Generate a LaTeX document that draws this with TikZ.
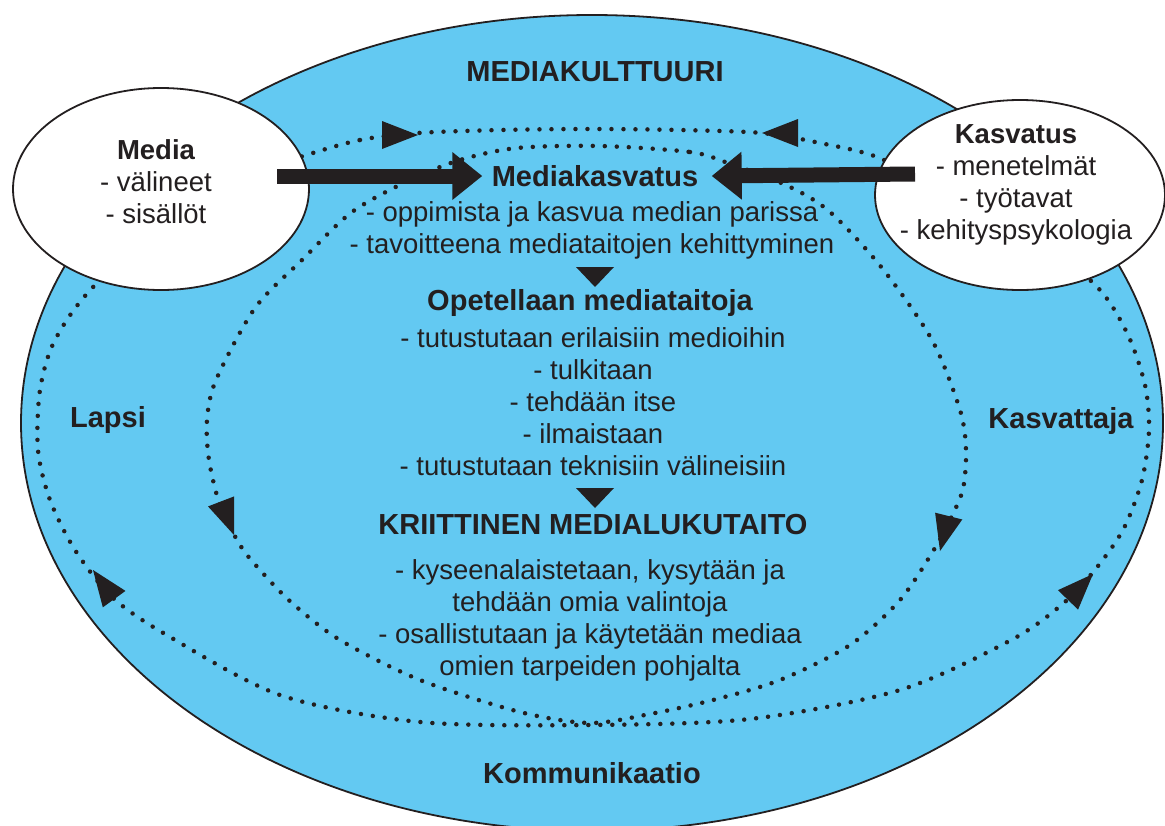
\documentclass[tikz,border=0pt]{standalone}
\usepackage{fontspec}
\setmainfont{Liberation Sans}
\usepackage{tikz}
\usetikzlibrary{arrows,arrows.meta,shapes.geometric}

\definecolor{kulttuuri}{RGB}{99,201,242}
\definecolor{ink}{RGB}{35,31,32}

\tikzset{
  txt/.style={text=ink, align=center, font=\fontsize{27.5}{32}\selectfont},
  hd/.style={text=ink, align=center, font=\fontsize{29}{33}\selectfont\bfseries},
  oval/.style={ellipse, draw=ink, line width=1.8pt, fill=white, inner sep=0pt},
  dots/.style={ink, line width=4.5pt, line cap=round, dash pattern=on 0pt off 12pt},
  bigarrow/.style={ink, line width=15pt, -{Triangle[length=30pt,width=46pt]}}
}

\begin{document}
\begin{tikzpicture}[x=1pt,y=-1pt]
        \useasboundingbox (0,0) rectangle (1165,825);
        \draw[ink, line width=1.8pt, fill=kulttuuri] (592,423) ellipse [x radius=571, y radius=408];

        % dotted loops
        \draw[dots] plot[smooth cycle] coordinates {(300,157) (360,140) (418,133) (500,130) (590,129) (680,130) (762,133) (820,143) (877,157) (940,190) (1050,250) (1100,290) (1128,335) (1145,385) (1149,430) (1142,480) (1124,528) (1098,566) (1066,601) (1013,639) (900,690) (750,719) (590,725) (420,722) (280,695) (165,634) (112,597) (75,550) (50,500) (38,450) (40,390) (55,340) (95,285) (200,190)};
        \draw[dots] plot[smooth cycle] coordinates {(600,146) (690,152) (728,163) (788,186) (830,212) (882,268) (932,340) (960,410) (966,450) (963,489) (950,520) (935,548) (900,600) (850,645) (780,680) (713,700) (650,714) (590,723) (520,712) (420,680) (340,640) (292,603) (260,570) (240,545) (220,505) (209,460) (207,420) (216,380) (255,308) (302,260) (352,212) (410,180) (460,160) (517,148)};
        \foreach \x/\y/\a in {418/135/0, 762/133/180, 93/570/126, 1093/574/46, 234/535/-69, 940/551/-104}
        \fill[ink, shift={(\x,\y)}, rotate=\a] (0,0) -- (-36,14) -- (-36,-14) -- cycle;

        \node[oval, minimum width=296pt, minimum height=202pt] (media) at (161,189) {};
        \node[oval, minimum width=290pt, minimum height=190pt] (kasvatus) at (1020,195) {};

        \node[hd] (title) at (595,72) {MEDIAKULTTUURI};
        \node[txt] (mediatxt) at (156,182) {{\bfseries Media}\\- välineet\\- sisällöt};
        \node[txt] (kasvatustxt) at (1016,185) {{\bfseries Kasvatus}\\- menetelmät\\- työtavat\\- kehityspsykologia};

        \node[hd] (mk) at (595,176) {Mediakasvatus};
        \node[txt] (mk1) at (592,230) {- oppimista ja kasvua median parissa\\- tavoitteena mediataitojen kehittyminen};
        \node[hd] (op) at (590,303) {Opetellaan mediataitoja};
        \node[txt] (op1) at (593,402) {- tutustutaan erilaisiin medioihin\\- tulkitaan\\- tehdään itse\\- ilmaistaan\\- tutustutaan teknisiin välineisiin};
        \node[hd] (kr) at (593,525) {KRIITTINEN MEDIALUKUTAITO};
        \node[txt] (kr1) at (590,620) {- kyseenalaistetaan, kysytään ja\\tehdään omia valintoja\\- osallistutaan ja käytetään mediaa\\omien tarpeiden pohjalta};
        \node[hd] (kom) at (592,773) {Kommunikaatio};
        \node[hd] (lapsi) at (108,420) {Lapsi};
        \node[hd] (kvt) at (1061,421) {Kasvattaja};

        % small arrows between the steps
        \foreach \y in {267,488}
        \fill[ink, shift={(595,\y)}] (-19,0) -- (19,0) -- (0,20) -- cycle;

        \coordinate (m0) at (277,176);
        \coordinate (k0) at (915,174);
        \draw[bigarrow] (m0) -- ([xshift=-6pt]mk.west);
        \draw[bigarrow] (k0) -- ([xshift=10pt]mk.east);
\end{tikzpicture}
\end{document}
